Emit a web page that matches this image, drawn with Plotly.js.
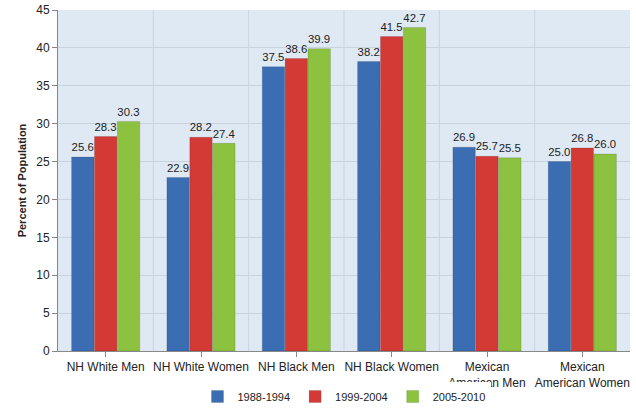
<!DOCTYPE html>
<html>
<head>
<script src="https://cdn.plot.ly/plotly-3.0.1.min.js"></script>
<style>body{margin:0}</style>
</head>
<body>
<div id="chart" style="width:636px;height:411px"></div>
<script>
const categories = ['NH White Men', 'NH White Women', 'NH Black Men', 'NH Black Women', 'Mexican<br>American Men', 'Mexican<br>American Women'];
const series1988 = [25.6, 22.9, 37.5, 38.2, 26.9, 25.0];
const series1999 = [28.3, 28.2, 38.6, 41.5, 25.7, 26.8];
const series2005 = [30.3, 27.4, 39.9, 42.7, 25.5, 26.0];

const mk = (name, y, color) => ({
    type: 'bar', name: name, x: categories, y: y,
    text: y.map(v => v.toFixed(1)), textposition: 'outside', cliponaxis: false,
    textfont: {size: 12, color: '#222'},
    marker: {color: color, line: {color: 'rgba(0,0,0,0.25)', width: 0.5}}
});

const data = [
    mk('1988-1994', series1988, '#3b6db3'),
    mk('1999-2004', series1999, '#d33a36'),
    mk('2005-2010', series2005, '#8cc23f'),
];

const layout = {
    width: 636, height: 411,
    margin: {l: 58, r: 6, t: 10, b: 60, autoexpand: false},
    font: {family: 'Arial, Liberation Sans, sans-serif', size: 12, color: '#222'},
    plot_bgcolor: '#dfe9f4', paper_bgcolor: '#fff',
    barmode: 'group', bargap: 0.28, bargroupgap: 0.02,
    xaxis: {showgrid: false, linecolor: '#888', showline: true, ticks: 'outside', tickcolor: '#888', tickfont: {size: 12}},
    yaxis: {range: [0, 45], dtick: 5, gridcolor: '#c8d3de', linecolor: '#888', showline: true, ticks: 'outside', tickcolor: '#888',
        title: {text: '<b>Percent of Population</b>', font: {size: 11}}},
    legend: {orientation: 'h', x: 0.5, xanchor: 'center', yref: 'container', y: 0.0, yanchor: 'bottom', font: {size: 11}},
    shapes: [0.5, 1.5, 2.5, 3.5, 4.5].map(x => ({type: 'line', xref: 'x', yref: 'paper', x0: x, x1: x, y0: 0, y1: 1, line: {color: '#c8d3de', width: 1}}))
};

Plotly.newPlot('chart', data, layout, {displayModeBar: false});
</script>
</body>
</html>
